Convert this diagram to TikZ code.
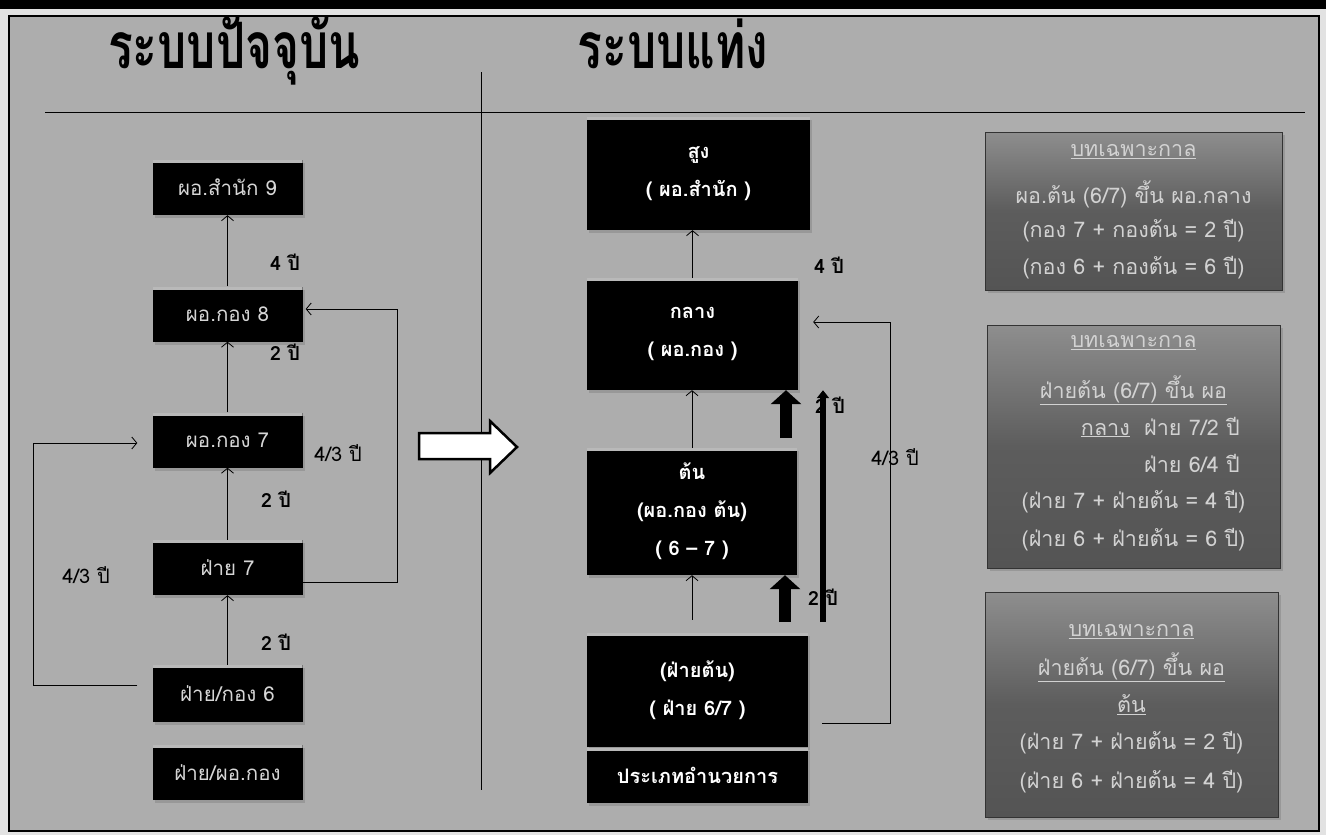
\documentclass[tikz,border=0pt]{standalone}
\usepackage{fontspec}
\usetikzlibrary{arrows.meta,shadows}
\newfontfamily\thai[Script=Thai]{Loma}
\newfontfamily\thaititle[Script=Thai,FakeStretch=0.72]{Loma}
\definecolor{bg}{HTML}{ADADAD}
\definecolor{outer}{HTML}{E2E2E2}
\definecolor{lgtxt}{HTML}{D6D6D6}
\definecolor{rtop}{HTML}{8E8E8E}
\definecolor{rbot}{HTML}{545454}
\definecolor{rtxt}{HTML}{D2D2D2}
\tikzset{
  hilite/.style={path picture={\fill[gray!55] (path picture bounding box.north west) rectangle ([yshift=-3pt]path picture bounding box.north east);}},
  lbox/.style={fill=black, text=lgtxt, minimum width=150pt, minimum height=55pt, inner sep=0pt,
    font=\thai\fontsize{20.5}{22}\selectfont, hilite, drop shadow={opacity=0.45,shadow xshift=2pt,shadow yshift=-3pt}},
  mbox/.style={fill=black, text=white, inner sep=0pt, align=center,
    font=\thai\bfseries\fontsize{20}{38}\selectfont, hilite, drop shadow={opacity=0.45,shadow xshift=2pt,shadow yshift=-3pt}},
  rbox/.style={draw=black!80, line width=0.8pt, top color=rtop, bottom color=rbot, middle color=rbot!85!rtop, inner sep=0pt,
    drop shadow={opacity=0.45,shadow xshift=3pt,shadow yshift=-3pt}},
  rline/.style={text=rtxt, inner sep=0pt, font=\thai\fontsize{21.5}{23}\selectfont},
  thinarr/.style={draw=black, line width=0.8pt, -{Straight Barb[length=5pt,width=12pt]}},
  blockarr/.style={draw=black, line width=12pt, -{Triangle[length=14pt,width=30pt]}},
  longarr/.style={draw=black, line width=6pt, -{Triangle[length=8pt,width=12pt]}},
  lblb/.style={inner sep=0pt, font=\thai\bfseries\fontsize{19.5}{22}\selectfont},
  lbl/.style={inner sep=0pt, font=\thai\fontsize{20}{22}\selectfont},
  ttl/.style={inner sep=0pt, anchor=base, font=\thaititle\bfseries\fontsize{64}{70}\selectfont}
}
\begin{document}
\begin{tikzpicture}[x=1pt,y=-1pt]
\useasboundingbox (0,0) rectangle (1326,835);
% frame and background
\fill[outer] (0,0) rectangle (1326,835);
\fill[black] (0,0) rectangle (1326,9);
\fill[bg] (9,16) rectangle (1319,831);
\draw[line width=1.5pt] (9,16) rectangle (1319,831);

% titles
\node[ttl] (t1) at (234,68) {ระบบปัจจุบัน};
\node[ttl] (t2) at (673,68) {ระบบแท่ง};

% dividers
\draw[line width=1pt] (45,112) -- (1305,112);
\draw[line width=0.8pt] (481,72) -- (481,790);

% left column
\node[lbox] (L9) at (227.5,187.5) {ผอ.สำนัก 9};
\node[lbox] (L8) at (227.5,314) {ผอ.กอง 8};
\node[lbox] (L7) at (227.5,440) {ผอ.กอง 7};
\node[lbox] (LF7) at (227.5,567.5) {ฝ่าย 7};
\node[lbox, minimum height=57pt] (LF6) at (227.5,693.5) {ฝ่าย/กอง 6};
\node[lbox] (LF) at (227.5,772.5) {ฝ่าย/ผอ.กอง};

\draw[thinarr] (L8.north) -- (L9.south);
\draw[thinarr] (L7.north) -- (L8.south);
\draw[thinarr] (LF7.north) -- (L7.south);
\draw[thinarr] (LF6.north) -- (LF7.south);
\draw[thinarr] ([yshift=-15pt]LF7.east) -- ++(95,0) |- ([xshift=3pt,yshift=5pt]L8.east);
\draw[thinarr] ([xshift=-15pt,yshift=8pt]LF6.west) -- ++(-104,0) |- ([xshift=-15pt,yshift=-3pt]L7.west);

\node[lblb] (a1) at (285,262) {4 ปี};
\node[lblb] (a2) at (285,352) {2 ปี};
\node[lbl] (a3) at (338,453) {4/3 ปี};
\node[lblb] (a4) at (276,499) {2 ปี};
\node[lblb] (a5) at (276,642) {2 ปี};
\node[lbl] (a6) at (86,575) {4/3 ปี};

% big white arrow
\draw[line width=2.5pt, fill=white, line join=miter] (419,433) -- (490,433) -- (490,421) -- (517,447) -- (490,473) -- (490,459) -- (419,459) -- cycle;

% middle column
\node[mbox, minimum width=223pt, minimum height=113pt] (M1) at (698.5,173.5) {สูง\\( ผอ.สำนัก )};
\node[mbox, minimum width=211pt, minimum height=112pt] (M2) at (692.5,334) {กลาง\\( ผอ.กอง )};
\node[mbox, minimum width=210pt, minimum height=127pt] (M3) at (692,511.5) {ต้น\\(ผอ.กอง ต้น)\\( 6 – 7 )};
\node[mbox, minimum width=221pt, minimum height=114pt] (M4) at (697.5,690) {(ฝ่ายต้น)\\( ฝ่าย 6/7 )};
\node[mbox, minimum width=221pt, minimum height=55pt] (M5) at (697.5,775.5) {ประเภทอำนวยการ};

\draw[thinarr] (M2.north) -- (M2.north |- M1.south);
\draw[thinarr] (M3.north) -- (M3.north |- M2.south);
\draw[thinarr] ([yshift=13pt]M3.south |- M4.north) -- (M3.south);

\coordinate (b1) at (786,438);
\coordinate (b2) at (785,622);
\coordinate (b3) at (823,622);
\draw[blockarr] (b1) -- (b1 |- M2.south);
\draw[blockarr] (b2) -- (b2 |- M3.south);
\draw[longarr] (b3) -- (b3 |- M2.south);

\draw[thinarr] ([xshift=14pt,yshift=-33pt]M4.east) -- ++(68,0) |- ([xshift=15pt,yshift=12pt]M2.east);

\node[lblb] (c1) at (829,265) {4 ปี};
\node[lblb] (c2) at (830,405) {2 ปี};
\node[lblb] (c3) at (823,597) {2 ปี};
\node[lbl] (c4) at (895,457) {4/3 ปี};

% right boxes
\node[rbox, minimum width=297pt, minimum height=158pt] (R1) at (1133.5,211) {};
\node[rline] (r11) at (1133.5,152) {\underline{บทเฉพาะกาล}};
\node[rline] (r12) at (1133.5,194) {ผอ.ต้น (6/7) ขึ้น ผอ.กลาง};
\node[rline] (r13) at (1133.5,231) {(กอง 7 + กองต้น = 2 ปี)};
\node[rline] (r14) at (1133.5,268) {(กอง 6 + กองต้น = 6 ปี)};

\node[rbox, minimum width=293pt, minimum height=243pt] (R2) at (1133.5,446.5) {};
\node[rline] (r21) at (1133.5,343) {\underline{บทเฉพาะกาล}};
\node[rline] (r22) at (1133.5,390) {\underline{ฝ่ายต้น (6/7) ขึ้น ผอ}};
\node[rline, anchor=east] (r23) at (1240,427) {\underline{กลาง}\ \ ฝ่าย 7/2 ปี};
\node[rline, anchor=east] (r24) at (1240,463) {ฝ่าย 6/4 ปี};
\node[rline] (r25) at (1133.5,502) {(ฝ่าย 7 + ฝ่ายต้น = 4 ปี)};
\node[rline] (r26) at (1133.5,540) {(ฝ่าย 6 + ฝ่ายต้น = 6 ปี)};

\node[rbox, minimum width=293pt, minimum height=225pt] (R3) at (1131.5,704.5) {};
\node[rline] (r31) at (1131.5,632) {\underline{บทเฉพาะกาล}};
\node[rline] (r32) at (1131.5,667) {\underline{ฝ่ายต้น (6/7) ขึ้น ผอ}};
\node[rline] (r33) at (1131.5,705) {\underline{ต้น}};
\node[rline] (r34) at (1131.5,743) {(ฝ่าย 7 + ฝ่ายต้น = 2 ปี)};
\node[rline] (r35) at (1131.5,782) {(ฝ่าย 6 + ฝ่ายต้น = 4 ปี)};
\end{tikzpicture}
\end{document}
